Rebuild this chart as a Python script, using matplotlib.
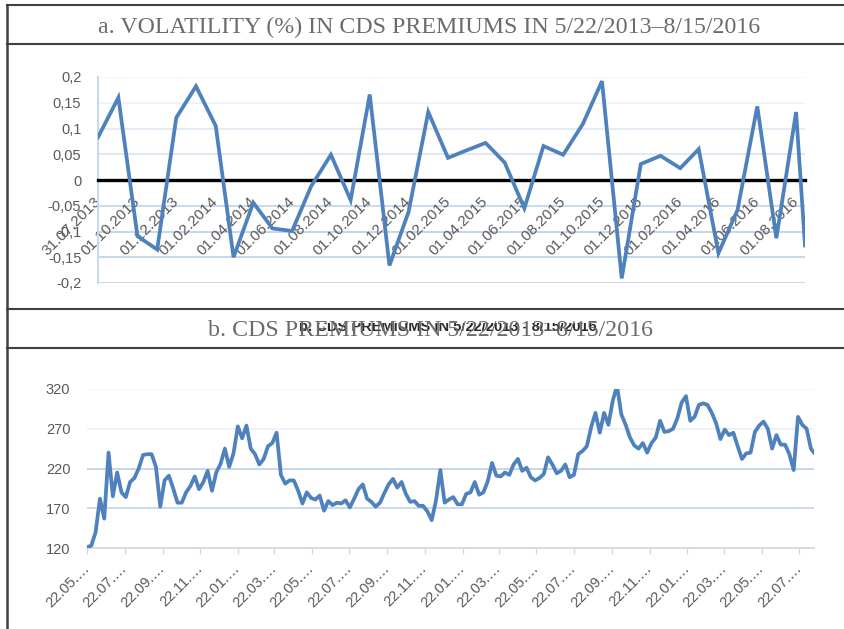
import matplotlib
matplotlib.use("Agg")
import matplotlib.pyplot as plt
import pandas as pd
from matplotlib.lines import Line2D
from matplotlib.transforms import Bbox, TransformedBbox

# ---- a. monthly volatility (%) of CDS premiums ----
vol_dates = (["2013-07-31"]
             + [d.strftime("%Y-%m-%d") for d in pd.date_range("2013-09-01", "2016-08-01", freq="MS")]
             + ["2016-08-15"])
vol_values = [0.083, 0.16, -0.109, -0.135, 0.121, 0.182, 0.105, -0.15, -0.044, -0.094,
              -0.099, -0.012, 0.049, -0.039, 0.166, -0.166, -0.062, 0.132, 0.043, 0.057,
              0.072, 0.034, -0.055, 0.066, 0.049, 0.109, 0.192, -0.191, 0.031, 0.047,
              0.023, 0.06, -0.142, -0.058, 0.143, -0.113, 0.132, -0.127]
vol_tick_dates = ["2013-07-31"] + [d.strftime("%Y-%m-%d") for d in
                                   pd.date_range("2013-10-01", "2016-08-01", freq="2MS")]
vol_yticks = [0.2, 0.15, 0.1, 0.05, 0, -0.05, -0.1, -0.15, -0.2]

# ---- b. CDS premiums (weekly readings) ----
cds_dates = list(pd.date_range("2013-05-22", periods=169, freq="7D")) + [pd.Timestamp("2016-08-15")]
cds_values = [121, 123, 140, 182, 157, 240, 185, 215, 190, 184,
              203, 208, 220, 237, 238, 238, 222, 172, 205, 211,
              195, 177, 177, 190, 198, 210, 194, 203, 217, 192,
              215, 226, 245, 222, 239, 273, 258, 274, 245, 238,
              225, 232, 248, 252, 265, 212, 201, 205, 205, 192,
              176, 190, 183, 181, 186, 167, 179, 174, 177, 176,
              180, 171, 182, 194, 200, 182, 178, 172, 177, 189,
              200, 207, 196, 203, 188, 178, 179, 173, 173, 166,
              155, 180, 218, 177, 181, 184, 175, 175, 188, 190,
              203, 187, 190, 204, 227, 211, 210, 215, 212, 225,
              232, 217, 221, 209, 205, 208, 213, 234, 225, 214,
              217, 225, 209, 212, 238, 242, 248, 272, 290, 265,
              290, 275, 305, 324, 288, 275, 259, 249, 245, 252,
              240, 252, 259, 280, 266, 267, 270, 283, 303, 311,
              280, 285, 300, 302, 300, 290, 277, 257, 269, 262,
              265, 248, 232, 239, 240, 266, 274, 279, 270, 245,
              262, 250, 250, 238, 218, 285, 275, 270, 245, 240]
cds_tick_dates = pd.date_range("2013-05-01", "2016-07-01", freq="2MS") + pd.Timedelta(days=21)
cds_yticks = [120, 170, 220, 270, 320]

BLUE = "#4f81bd"
TICK = "#595959"
TITLE = "#6b6b6b"
FRAME = "#404040"

W, H = 844, 629
fig = plt.figure(figsize=(W / 100, H / 100), dpi=100)


def fx(x):
    return x / W


def fy(y):
    return 1 - y / H


# frame
for y in [5, 44, 309, 348]:
    fig.add_artist(Line2D([fx(7), fx(850)], [fy(y), fy(y)], color=FRAME, lw=1.5))
fig.add_artist(Line2D([fx(7), fx(7)], [fy(5), fy(640)], color=FRAME, lw=1.8))

fig.text(fx(429), fy(27), "a. VOLATILITY (%) IN CDS PREMIUMS IN 5/22/2013\u20138/15/2016",
         family="Liberation Serif", fontsize=17.2, color=TITLE, ha="center", va="center")
ghost = fig.text(fx(448), fy(327), "b. CDS PREMIUMS IN 5/22/2013 - 8/15/2016",
                 family="Liberation Sans", fontweight="bold", fontsize=10.5, color="#2b2b2b",
                 ha="center", va="center")
ghost.set_clip_box(TransformedBbox(Bbox([[0, fy(340)], [1, fy(323)]]), fig.transFigure))
ghost.set_clip_on(True)
fig.text(fx(430), fy(331), "b. CDS PREMIUMS IN 5/22/2013\u20138/15/2016",
         family="Liberation Serif", fontsize=17.2, color=TITLE, ha="center", va="center")

# ---- top chart ----
ax1 = fig.add_axes([fx(98), fy(283), fx(805) - fx(98), fy(77) - fy(283)])
ax1.plot(pd.to_datetime(vol_dates), vol_values, color=BLUE, lw=2.7, zorder=3,
         solid_joinstyle="miter")
ax1.set_xlim(pd.Timestamp(vol_dates[0]), pd.Timestamp(vol_dates[-1]))
ax1.set_ylim(-0.2, 0.2)
grid_cols = ["#f3f6fa", "#eef3f9", "#e1eaf5", "#dbe6f3", None,
             "#c6d7ec", "#c3d4ea", "#c3d4ea", "#c3d4ea"]
for v, c in zip(vol_yticks, grid_cols):
    if c:
        ax1.axhline(v, color=c, lw=1.3, zorder=1)
ax1.set_yticks(vol_yticks, [f"{v:g}".replace(".", ",") for v in vol_yticks])
ax1.set_xticks(pd.to_datetime(vol_tick_dates),
               [pd.Timestamp(d).strftime("%d.%m.%Y") for d in vol_tick_dates])
for s in ["top", "right"]:
    ax1.spines[s].set_visible(False)
ax1.spines["bottom"].set_position(("data", 0))
ax1.spines["bottom"].set_color("black")
ax1.spines["bottom"].set_linewidth(2.4)
ax1.spines["left"].set_color("#c9d9ed")
ax1.spines["left"].set_linewidth(1.5)
ax1.tick_params(axis="both", length=0, labelsize=10.5, labelcolor=TICK)
ax1.tick_params(axis="y", pad=12)
ax1.tick_params(axis="x", pad=14, labelsize=11)
for lbl in ax1.get_xticklabels():
    lbl.set_family("Liberation Sans")
    lbl.set_rotation(45)
    lbl.set_ha("right")
    lbl.set_va("center")
    lbl.set_rotation_mode("anchor")
for lbl in ax1.get_yticklabels():
    lbl.set_family("Liberation Sans")
ax1.patch.set_alpha(0)

# ---- bottom chart ----
ax2 = fig.add_axes([fx(87), fy(548), fx(814) - fx(87), fy(389) - fy(548)])
ax2.plot(cds_dates, cds_values, color=BLUE, lw=2.7, zorder=3)
ax2.set_xlim(cds_dates[0], cds_dates[-1])
ax2.set_ylim(120, 320)
grid_cols2 = [None, "#c8d8ec", "#c3d4ea", "#ebf1f8", "#f3f6fa"]
for v, c in zip(cds_yticks, grid_cols2):
    if c:
        ax2.axhline(v, color=c, lw=1.3, zorder=1)
ax2.set_yticks(cds_yticks)
ax2.set_xticks(cds_tick_dates, [d.strftime("%d.%m.") + "\u2026" for d in cds_tick_dates])
for s in ["top", "right", "left"]:
    ax2.spines[s].set_visible(False)
ax2.spines["bottom"].set_color("#d9d9d9")
ax2.spines["bottom"].set_linewidth(1.3)
ax2.tick_params(axis="y", length=0, pad=12, labelsize=10.5, labelcolor=TICK)
ax2.tick_params(axis="x", length=4, width=1, color="#d9d9d9", pad=9,
                labelsize=10.5, labelcolor=TICK)
for lbl in ax2.get_xticklabels():
    lbl.set_family("Liberation Sans")
    lbl.set_rotation(45)
    lbl.set_ha("right")
    lbl.set_va("center")
    lbl.set_rotation_mode("anchor")
for lbl in ax2.get_yticklabels():
    lbl.set_family("Liberation Sans")
ax2.patch.set_alpha(0)

fig.savefig("out.png", dpi=100)
